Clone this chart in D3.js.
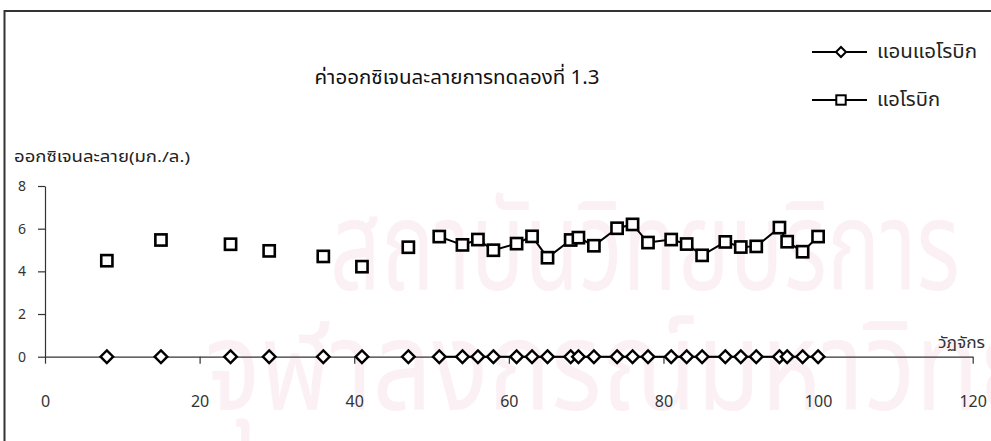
<!DOCTYPE html>
<html>
<head>
<meta charset="utf-8">
<script src="https://cdn.jsdelivr.net/npm/d3@7"></script>
<style>
  html, body { margin: 0; padding: 0; background: #fff; }
  svg { display: block; }
  text { font-family: "Noto Sans Thai", "Noto Sans", "Liberation Sans", sans-serif; }
</style>
</head>
<body>
<svg id="chart" width="991" height="441"></svg>
<script>
// Dissolved oxygen, experiment 1.3
const chartTitle = "ค่าออกซิเจนละลายการทดลองที่ 1.3";
const yTitle = "ออกซิเจนละลาย(มก./ล.)";
const xTitle = "วัฏจักร";
const seriesNames = ["แอนแอโรบิก", "แอโรบิก"];

// cycle numbers at which samples were taken
const cycles = [8, 15, 24, 29, 36, 41, 47, 51, 54, 56, 58, 61, 63, 65, 68, 69,
                71, 74, 76, 78, 81, 83, 85, 88, 90, 92, 95, 96, 98, 100];
// dissolved oxygen (mg/L)
const anaerobic = [0, 0, 0, 0, 0, 0, 0, 0, 0, 0, 0, 0, 0, 0, 0, 0,
                   0, 0, 0, 0, 0, 0, 0, 0, 0, 0, 0, 0, 0, 0];
const aerobic = [4.5, 5.47, 5.27, 4.96, 4.7, 4.22, 5.13, 5.63, 5.24, 5.49, 4.99, 5.3, 5.64, 4.64, 5.47, 5.58,
                 5.2, 6.02, 6.2, 5.35, 5.49, 5.28, 4.75, 5.38, 5.14, 5.17, 6.05, 5.39, 4.92, 5.63];
// consecutive sampling starts here; earlier points stand alone
const joinedFromCycle = 51;

const xTicks = [0, 20, 40, 60, 80, 100, 120];
const yTicks = [0, 2, 4, 6, 8];
const watermarkLines = ["สถาบันวิทยบริการ", "จุฬาลงกรณ์มหาวิทยาลัย"];

const svg = d3.select("#chart");

// faint background watermark
const wm = svg.append("g").attr("fill", "#fbf1f4");
wm.append("text").attr("x", 330).attr("y", 290).attr("font-size", 125)
  .attr("textLength", 630).attr("lengthAdjust", "spacingAndGlyphs")
  .text(watermarkLines[0]);
wm.append("text").attr("x", 205).attr("y", 410).attr("font-size", 125)
  .attr("textLength", 1000).attr("lengthAdjust", "spacingAndGlyphs")
  .text(watermarkLines[1]);

// outer frame
svg.append("rect").attr("x", 4.5).attr("y", 11).attr("width", 1000).attr("height", 450)
  .attr("fill", "none").attr("stroke", "#333").attr("stroke-width", 2);

const x = d3.scaleLinear().domain([0, 120]).range([45, 972.7]);
const y = d3.scaleLinear().domain([0, 8]).range([356.7, 186]);

const xAxis = svg.append("g").attr("transform", `translate(0,${y(0)})`)
  .call(d3.axisBottom(x).tickValues(xTicks).tickSize(7).tickSizeOuter(0).tickPadding(32));
const yAxis = svg.append("g").attr("transform", `translate(${x(0)},0)`)
  .call(d3.axisLeft(y).tickValues(yTicks).tickSize(7).tickSizeOuter(0).tickPadding(12));

[xAxis, yAxis].forEach(g => {
  g.selectAll("path, line").attr("stroke", "#333").attr("stroke-width", 1.2);
  g.selectAll("text").attr("fill", "#333").attr("font-family", "'Liberation Sans', Arial, sans-serif");
});
xAxis.selectAll("text").attr("font-size", 16);
yAxis.selectAll("text").attr("font-size", 14);

// titles
svg.append("text").attr("x", 457).attr("y", 84).attr("text-anchor", "middle")
  .attr("font-size", 20).attr("textLength", 285).attr("lengthAdjust", "spacingAndGlyphs")
  .attr("fill", "#111").text(chartTitle);
svg.append("text").attr("x", 14).attr("y", 162).attr("font-size", 15)
  .attr("textLength", 176).attr("lengthAdjust", "spacingAndGlyphs")
  .attr("fill", "#222").text(yTitle);
svg.append("text").attr("x", 985).attr("y", 348).attr("text-anchor", "end")
  .attr("font-size", 15).attr("textLength", 47).attr("lengthAdjust", "spacingAndGlyphs")
  .attr("fill", "#333").text(xTitle);

// series
const rows = cycles.map((c, i) => ({ c, an: anaerobic[i], ae: aerobic[i] }));
const joined = rows.filter(d => d.c >= joinedFromCycle);

const lineAn = d3.line().x(d => x(d.c)).y(d => y(d.an));
const lineAe = d3.line().x(d => x(d.c)).y(d => y(d.ae));

svg.append("path").attr("d", lineAn(joined)).attr("fill", "none")
  .attr("stroke", "#000").attr("stroke-width", 2);
svg.append("path").attr("d", lineAe(joined)).attr("fill", "none")
  .attr("stroke", "#000").attr("stroke-width", 2);

const diamond = r => `M0,${-r}L${r},0L0,${r}L${-r},0Z`;

svg.append("g").selectAll("path").data(rows).join("path")
  .attr("transform", d => `translate(${x(d.c)},${y(d.an)})`)
  .attr("d", diamond(6.3))
  .attr("fill", "#fff").attr("stroke", "#000").attr("stroke-width", 2.4);

const sq = 11.2;
svg.append("g").selectAll("rect").data(rows).join("rect")
  .attr("x", d => x(d.c) - sq / 2).attr("y", d => y(d.ae) - sq / 2)
  .attr("width", sq).attr("height", sq)
  .attr("fill", "#fff").attr("stroke", "#000").attr("stroke-width", 2.6);

// legend
const legend = svg.append("g");
const legendRows = [{ name: seriesNames[0], cy: 52, shape: "diamond", len: 100 },
                    { name: seriesNames[1], cy: 100, shape: "square", len: 63 }];
legendRows.forEach(r => {
  legend.append("line").attr("x1", 812).attr("x2", 867).attr("y1", r.cy).attr("y2", r.cy)
    .attr("stroke", "#000").attr("stroke-width", 2);
  if (r.shape === "diamond") {
    legend.append("path").attr("transform", `translate(841,${r.cy})`).attr("d", diamond(5))
      .attr("fill", "#fff").attr("stroke", "#000").attr("stroke-width", 2);
  } else {
    legend.append("rect").attr("x", 841 - 4.7).attr("y", r.cy - 4.7).attr("width", 9.4).attr("height", 9.4)
      .attr("fill", "#fff").attr("stroke", "#000").attr("stroke-width", 2);
  }
  legend.append("text").attr("x", 877).attr("y", r.cy + 6).attr("font-size", 19)
    .attr("textLength", r.len).attr("lengthAdjust", "spacingAndGlyphs")
    .attr("fill", "#222").text(r.name);
});
</script>
</body>
</html>
